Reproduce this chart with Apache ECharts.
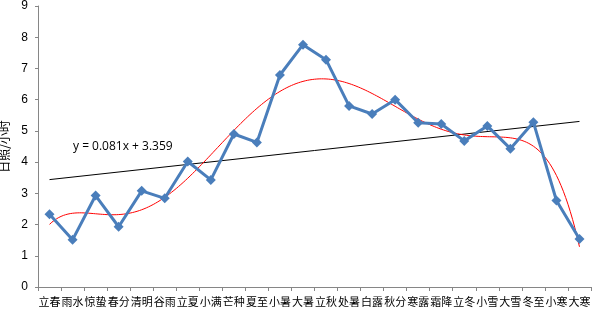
<!DOCTYPE html>
<html><head><meta charset="utf-8">
<script src="https://cdn.jsdelivr.net/npm/echarts@6/dist/echarts.min.js"></script>
<style>html,body{margin:0;padding:0;background:#fff}#c{width:593px;height:312px}</style>
</head><body><div id="c"></div>
<script>
const categories = ['立春','雨水','惊蛰','春分','清明','谷雨','立夏','小满','芒种','夏至','小暑','大暑','立秋','处暑','白露','秋分','寒露','霜降','立冬','小雪','大雪','冬至','小寒','大寒'];
const sunshine = [2.33,1.51,2.93,1.93,3.08,2.84,4.02,3.43,4.90,4.63,6.79,7.76,7.28,5.80,5.54,6.00,5.26,5.22,4.68,5.16,4.43,5.28,2.77,1.54];
const yTicks = [0,1,2,3,4,5,6,7,8,9];
const trendSlope = 0.081, trendIntercept = 3.359;
const polyDegree = 6;

// polynomial least-squares fit (Excel-style polynomial trendline)
function polyFit(ys, deg){
  const n = ys.length, c = (n+1)/2, s = (n-1)/2;
  const m = deg+1;
  const A = Array.from({length:m},()=>new Array(m+1).fill(0));
  for(let i=0;i<n;i++){
    const t = ((i+1)-c)/s;
    const p = []; for(let k=0;k<m;k++) p.push(Math.pow(t,k));
    for(let r=0;r<m;r++){ for(let q=0;q<m;q++) A[r][q]+=p[r]*p[q]; A[r][m]+=p[r]*ys[i]; }
  }
  for(let col=0;col<m;col++){
    let piv=col; for(let r=col+1;r<m;r++) if(Math.abs(A[r][col])>Math.abs(A[piv][col])) piv=r;
    [A[col],A[piv]]=[A[piv],A[col]];
    for(let r=0;r<m;r++){ if(r===col) continue; const f=A[r][col]/A[col][col]; for(let q=col;q<=m;q++) A[r][q]-=f*A[col][q]; }
  }
  const coef = A.map((row,i)=>row[m]/row[i]);
  return x => { const t=(x-c)/s; let v=0; for(let k=m-1;k>=0;k--) v=v*t+coef[k]; return v; };
}
const poly = polyFit(sunshine, polyDegree);
const polyPts = [];
for(let i=0;i<=230;i++){ const x = 1 + 23*i/230; polyPts.push([x, poly(x)]); }
const n = categories.length;
const linPts = [[1, trendSlope*1+trendIntercept],[n, trendSlope*n+trendIntercept]];

const axisColor = '#868686';
const chart = echarts.init(document.getElementById('c'));
chart.setOption({
  animation:false,
  grid:{left:38,right:2,top:6,bottom:25,containLabel:false,outerBoundsMode:'none'},
  xAxis:[{
    type:'category', data:categories, boundaryGap:true,
    axisLine:{lineStyle:{color:axisColor}},
    axisTick:{show:true,length:4,alignWithLabel:false,lineStyle:{color:axisColor}},
    axisLabel:{interval:0,color:'#000',fontSize:11,margin:9,fontFamily:'Noto Sans CJK SC',hideOverlap:false}
  },{
    type:'value', min:0.5, max:n+0.5, show:false
  }],
  yAxis:{
    type:'value', min:yTicks[0], max:yTicks[yTicks.length-1], interval:1,
    name:'日照/小时', nameLocation:'middle', nameGap:25, nameRotate:90,
    nameTextStyle:{color:'#000',fontSize:12,fontFamily:'Noto Sans CJK SC'},
    axisLine:{show:true,lineStyle:{color:axisColor}},
    axisTick:{show:true,length:3,lineStyle:{color:axisColor}},
    axisLabel:{color:'#000',fontSize:12,margin:10,fontFamily:'Liberation Sans'},
    splitLine:{show:false}
  },
  series:[{
    type:'line', xAxisIndex:1, data:linPts, symbol:'none',
    lineStyle:{color:'#000',width:1}, z:1
  },{
    type:'line', xAxisIndex:1, data:polyPts, symbol:'none', smooth:false,
    lineStyle:{color:'#ff0000',width:1}, z:2
  },{
    type:'line', xAxisIndex:0, data:sunshine, symbol:'diamond', symbolSize:10,
    lineStyle:{color:'#4A7EBB',width:3}, itemStyle:{color:'#4A7EBB'}, z:3
  }],
  graphic:[{
    type:'text', left:73, top:141,
    style:{text:'y = 0.081x + 3.359', fill:'#000', font:'12px "Open Sans", "Liberation Sans", sans-serif'}
  }]
});
</script></body></html>
